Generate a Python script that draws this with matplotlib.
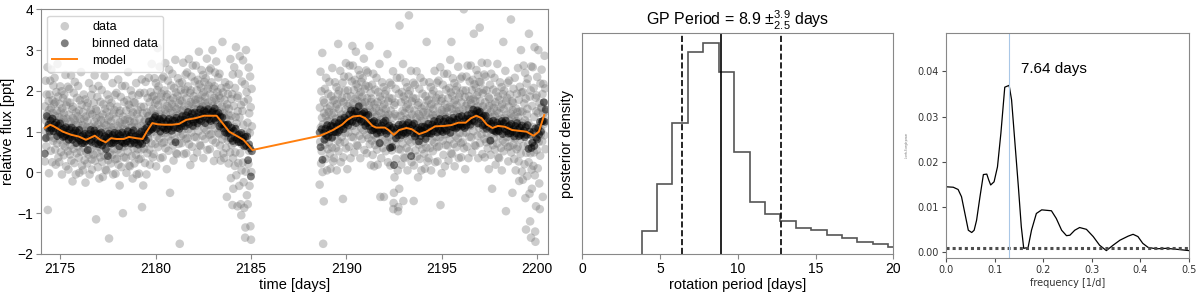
import numpy as np
import matplotlib.pyplot as plt

plt.rcParams['font.family'] = ['Liberation Sans', 'DejaVu Sans']
plt.rcParams['mathtext.fontset'] = 'custom'
plt.rcParams['mathtext.rm'] = 'Liberation Sans'
plt.rcParams['mathtext.it'] = 'Liberation Sans:italic'

# ---- light curve: raw points, 16 per 0.25 d slice, two orbits
gray_seg1 = """
0.27 1.62 1.02 2.25 1.27 0.64 1.91 0.86 1.44 2.58 -0.92 1.33 1.15 1.75 -0.02 1.53
1.91 0.88 2.25 1.22 0.53 1.58 2.52 1.03 1.32 0.25 1.77 1.46 0.77 2.13 1.16 1.68
0.84 2.32 1.39 0.56 1.72 0.19 1.24 1.97 0.98 1.51 0.71 2.66 1.09 1.86 0.37 1.29
1.36 0.25 1.68 0.80 2.11 0.98 1.49 0.50 1.22 1.99 -0.05 1.57 1.08 0.69 1.82 1.31
0.42 1.45 1.91 0.90 1.24 0.63 2.39 1.10 0.15 1.64 1.32 0.77 1.73 1.03 2.10 0.52
0.07 1.42 0.82 2.05 1.07 0.44 1.71 0.66 1.24 2.38 0.29 1.13 0.95 1.55 -0.22 1.33
1.61 0.58 1.95 0.92 0.23 1.28 2.22 0.73 1.02 -0.05 1.47 1.16 0.47 1.83 0.86 1.38
0.64 2.12 1.19 0.36 1.52 -0.01 1.04 1.77 0.78 1.31 0.51 2.46 0.89 1.66 0.17 1.09
1.16 0.05 1.48 0.60 1.91 0.78 1.29 0.30 1.02 1.79 -0.25 1.37 0.88 0.49 1.62 1.11
0.22 1.25 1.71 0.70 1.04 0.43 2.19 0.90 -0.05 1.44 1.12 0.57 1.53 0.83 1.90 0.32
0.07 1.42 0.82 2.05 1.07 0.44 1.71 0.66 1.24 2.38 0.29 1.13 0.95 1.55 -1.15 1.33
1.51 0.48 1.85 0.82 0.13 1.18 2.12 0.63 0.92 -0.15 1.37 1.06 0.37 1.73 0.76 1.28
0.54 2.02 1.09 0.26 1.42 -0.11 0.94 1.67 0.68 1.21 0.41 2.36 0.79 1.56 0.07 0.99
1.16 0.05 1.48 0.60 1.91 0.78 1.29 0.30 1.02 1.79 -1.62 1.37 0.88 0.49 1.62 1.11
0.22 1.25 1.71 0.70 1.04 0.43 2.19 0.90 -0.05 1.44 1.12 0.57 1.53 0.83 1.90 0.32
-0.03 1.32 0.72 1.95 0.97 0.34 1.61 0.56 1.14 2.28 0.19 1.03 0.85 1.45 -0.32 1.23
1.51 0.48 1.85 0.82 0.13 1.18 2.12 0.63 0.92 -1.00 1.37 1.06 0.37 1.73 0.76 1.28
0.64 2.12 1.19 0.36 1.52 -0.01 1.04 1.77 0.78 1.31 0.51 2.46 0.89 1.66 0.17 1.09
1.26 0.15 1.58 0.70 2.01 0.88 1.39 0.40 1.12 1.89 -0.15 1.47 0.98 0.59 1.72 1.21
0.22 1.25 1.71 0.70 1.04 0.43 2.19 0.90 -0.05 1.44 1.12 0.57 1.53 0.83 1.90 0.32
-0.03 1.32 0.72 1.95 0.97 0.34 1.61 0.56 1.14 2.28 -0.85 1.03 0.85 1.45 -0.32 1.23
1.61 0.58 1.95 0.92 0.23 1.28 2.22 0.73 1.02 -0.05 1.47 1.16 0.47 1.83 0.86 1.38
0.84 2.32 1.39 0.56 1.72 0.19 1.24 1.97 0.98 1.51 0.71 2.66 1.09 1.86 0.37 1.29
1.56 0.45 1.88 1.00 2.31 1.18 1.69 0.70 1.42 2.19 0.15 1.77 1.28 0.89 2.02 3.05
0.62 1.65 2.11 1.10 1.44 0.83 2.59 1.30 0.35 1.84 1.52 0.97 1.93 1.23 2.30 0.72
0.37 1.72 1.12 2.35 1.37 0.74 2.01 0.96 1.54 2.68 0.59 1.43 1.25 1.85 0.08 1.63
1.91 0.88 2.25 1.22 0.53 1.58 2.52 1.03 1.32 -0.50 1.77 1.46 0.77 2.13 1.16 1.68
0.94 2.42 1.49 0.66 1.82 0.29 1.34 2.07 1.08 1.61 0.81 2.76 1.19 1.96 0.47 1.39
1.56 0.45 1.88 1.00 2.31 1.18 1.69 0.70 1.42 2.19 -1.75 1.77 1.28 0.89 2.02 1.51
0.72 1.75 2.21 1.20 1.54 0.93 2.69 1.40 0.45 1.94 1.62 1.07 2.03 1.33 2.40 0.82
0.47 1.82 1.22 2.45 1.47 0.84 2.11 1.06 1.64 2.78 0.69 1.53 1.35 1.95 0.18 1.73
2.01 0.98 2.35 1.32 0.63 1.68 2.62 1.13 1.42 0.35 1.87 1.56 0.87 2.23 1.26 1.78
1.14 2.62 1.69 0.86 2.02 0.49 1.54 2.27 1.28 1.81 1.01 2.96 1.39 2.16 0.67 1.59
1.76 0.65 2.08 1.20 2.51 1.38 1.89 0.90 1.62 2.39 0.35 1.97 1.48 1.09 2.22 1.71
0.82 1.85 2.31 1.30 1.64 1.03 2.79 1.50 0.55 2.04 1.72 1.17 2.13 1.43 2.50 0.92
0.57 1.92 1.32 2.55 1.57 0.94 2.21 1.16 1.74 3.00 0.79 1.63 1.45 2.05 0.28 1.83
2.11 1.08 2.45 1.42 0.73 1.78 2.72 1.23 1.52 0.45 1.97 1.66 0.97 2.33 1.36 1.88
0.94 2.42 1.49 0.66 1.82 0.29 1.34 2.07 1.08 1.61 0.81 3.20 1.19 1.96 0.47 1.39
1.46 0.35 1.78 0.90 2.21 1.08 1.59 0.60 1.32 2.09 -0.60 1.67 1.18 0.79 1.92 1.41
0.22 1.56 2.15 0.84 1.28 0.49 2.78 1.10 -0.14 1.80 1.39 0.67 1.92 -0.80 2.40 0.35
-0.40 1.63 0.73 2.58 1.11 0.16 2.07 0.49 1.36 3.07 -0.07 1.20 0.92 1.83 -0.83 1.50
1.88 0.23 2.42 0.77 -0.33 1.35 2.85 0.47 0.93 -0.78 1.65 -1.05 0.05 2.23 0.68 1.51
0.24 2.75 1.17 -0.24 1.73 -0.87 0.92 2.16 -1.60 -1.35 0.02 3.00 0.66 1.97 -0.56 1.00
1.22 -0.78 1.79 0.21 2.57 0.53 1.45 -0.33 0.97 2.35 -1.32 1.60 -1.65 0.01 2.05 1.13
"""
gray_seg2 = """
-0.30 1.59 0.75 2.47 1.10 0.22 1.99 0.52 1.34 2.93 0.01 1.18 -1.75 1.77 -0.71 1.46
1.71 0.68 2.05 1.02 0.33 1.38 2.32 0.83 1.12 0.05 1.57 1.26 0.57 1.93 0.96 1.48
0.74 2.22 1.29 0.46 1.62 0.09 1.14 1.87 0.88 1.41 0.61 2.56 0.99 1.76 0.27 1.19
1.46 0.35 1.78 0.90 2.21 1.08 1.59 0.60 1.32 2.09 0.05 1.67 1.18 0.79 1.92 3.15
0.52 1.55 2.01 1.00 1.34 0.73 2.49 1.20 0.25 1.74 1.42 0.87 1.83 1.13 2.20 -0.65
0.37 1.72 1.12 2.35 1.37 0.74 2.01 0.96 1.54 2.68 0.59 1.43 1.25 1.85 0.08 1.63
2.01 0.98 2.35 1.32 0.63 1.68 2.62 1.13 1.42 0.35 1.87 1.56 0.87 2.23 1.26 3.10
1.14 2.62 1.69 0.86 2.02 0.49 1.54 2.27 1.28 1.81 1.01 2.96 1.39 2.16 0.67 1.59
1.76 0.65 2.08 1.20 2.51 1.38 1.89 0.90 1.62 2.39 0.35 1.97 1.48 1.09 2.22 1.71
0.82 1.85 2.31 1.30 1.64 1.03 2.79 1.50 0.55 2.04 1.72 1.17 2.13 1.43 2.50 0.92
0.47 1.82 1.22 2.45 1.47 0.84 2.11 1.06 1.64 3.10 0.69 1.53 1.35 1.95 0.18 1.73
1.81 0.78 2.15 1.12 0.43 1.48 2.42 0.93 1.22 0.15 1.67 1.36 0.67 2.03 1.06 1.58
0.84 2.32 1.39 0.56 1.72 0.19 1.24 1.97 0.98 1.51 0.71 2.66 1.09 1.86 -0.60 1.29
1.46 0.35 1.78 0.90 2.21 1.08 1.59 0.60 1.32 2.09 -0.60 1.67 1.18 0.79 1.92 1.41
0.52 1.55 2.01 1.00 1.34 0.73 2.90 1.20 0.25 1.74 1.42 0.87 1.83 1.13 2.20 0.62
0.17 1.52 0.92 2.15 1.17 0.54 1.81 0.76 1.34 2.48 -0.90 -0.75 -0.50 1.65 -0.12 1.43
1.71 0.68 2.05 1.02 0.33 1.38 2.32 0.83 1.12 0.05 -0.95 -0.85 0.57 1.93 -0.40 3.60
0.84 2.32 1.39 0.56 1.72 0.19 1.24 1.97 0.98 1.51 0.71 2.66 -0.70 1.86 0.37 1.29
1.46 0.35 1.78 0.90 2.21 1.08 1.59 0.60 1.32 2.09 0.05 1.67 1.18 0.79 1.92 3.85
0.52 1.55 2.01 1.00 1.34 0.73 2.49 1.20 0.25 1.74 1.42 0.87 1.83 1.13 2.20 -0.70
0.17 1.52 0.92 2.15 1.17 0.54 1.81 0.76 1.34 2.48 0.39 1.23 1.05 1.65 -0.12 1.43
1.71 0.68 2.05 1.02 0.33 1.38 2.32 0.83 1.12 0.05 1.57 1.26 0.57 1.93 0.96 1.48
0.74 2.22 1.29 0.46 1.62 0.09 1.14 1.87 0.88 1.41 0.61 3.20 0.99 1.76 0.27 1.19
1.46 0.35 1.78 0.90 2.21 1.08 1.59 0.60 1.32 2.09 0.05 1.67 1.18 0.79 1.92 1.41
0.52 1.55 2.01 1.00 1.34 0.73 2.49 1.20 0.25 1.74 1.42 0.87 1.83 1.13 2.20 0.62
0.27 1.62 1.02 2.25 1.27 0.64 1.91 0.86 1.44 2.58 -0.80 1.33 1.15 1.75 -0.02 1.53
1.81 0.78 2.15 1.12 0.43 1.48 2.42 0.93 1.22 0.15 1.67 1.36 0.67 2.03 1.06 1.58
0.94 2.42 1.49 0.66 1.82 0.29 1.34 2.07 1.08 1.61 0.81 2.76 1.19 1.96 0.47 3.20
1.56 0.45 1.88 1.00 2.31 1.18 1.69 0.70 1.42 2.19 0.15 1.77 1.28 0.89 2.02 1.51
0.62 1.65 2.11 1.10 1.44 0.83 2.59 1.30 0.35 1.84 1.52 0.97 1.93 1.23 2.30 0.72
0.37 1.72 1.12 2.35 1.37 0.74 2.01 0.96 1.54 4.00 0.59 1.43 1.25 1.85 0.08 1.63
2.01 0.98 2.35 1.32 0.63 1.68 2.62 1.13 1.42 0.35 1.87 1.56 0.87 2.23 1.26 1.78
1.14 2.62 1.69 0.86 2.02 0.49 1.54 2.27 1.28 1.81 1.01 3.40 1.39 2.16 0.67 1.59
1.76 0.65 2.08 1.20 2.51 1.38 1.89 0.90 1.62 2.39 0.35 1.97 1.48 1.09 2.22 3.55
0.72 1.75 2.21 1.20 1.54 0.93 2.69 1.40 0.45 1.94 1.62 1.07 2.03 1.33 2.40 0.82
0.37 1.72 1.12 2.35 1.37 0.74 2.01 0.96 1.54 2.68 0.59 1.43 1.25 1.85 0.08 1.63
1.81 0.78 2.15 1.12 0.43 1.48 2.42 0.93 1.22 -0.40 1.67 1.36 0.67 2.03 1.06 1.58
0.84 2.32 1.39 0.56 1.72 0.19 1.24 1.97 0.98 1.51 0.71 2.66 1.09 1.86 0.37 1.29
1.46 0.35 1.78 0.90 2.21 1.08 1.59 0.60 1.32 2.09 0.05 1.67 1.18 0.79 1.92 3.20
0.52 1.55 2.01 1.00 1.34 0.73 2.49 1.20 -0.95 1.74 1.42 0.87 1.83 1.13 2.20 0.62
0.27 1.62 1.02 2.25 1.27 0.64 1.91 0.86 1.44 3.75 0.49 1.33 1.15 1.75 -0.50 1.53
1.71 0.68 2.05 1.02 0.33 1.38 2.32 0.83 1.12 0.05 1.57 1.26 0.57 1.93 0.96 1.48
0.63 2.56 1.35 0.27 1.78 -0.21 1.15 2.10 0.81 1.50 0.46 3.00 0.96 1.96 0.02 1.22
1.49 -0.18 1.97 0.65 2.62 0.92 1.69 0.20 1.28 2.44 -0.63 1.81 -1.40 0.48 2.18 1.42
-0.09 1.56 2.30 0.68 1.22 0.25 3.40 1.00 -0.52 1.86 -1.20 0.47 2.01 -1.60 2.60 0.07
-0.40 1.63 0.73 2.58 1.11 0.16 2.07 0.49 1.36 3.07 -0.07 -1.45 -1.70 1.83 -0.83 1.50
1.89 0.55 2.34 1.00 0.10 1.46 3.00 0.75 1.13 -0.27 1.71 -0.90 0.41 2.18 0.92 1.59
1.04 2.52 1.59 0.76 1.92 -0.60 1.44 2.17 1.18 1.71 0.91 2.86 1.29 2.06 0.57 1.49
"""

# binned points, one every 0.05 d
binned_seg1 = [
    0.46, 0.84, 1.38, 1.09, 1.17, 1.00, 1.27, 1.08, 1.32, 1.01, 1.17, 1.08, 1.22, 0.89, 1.15, 0.99,
    1.20, 0.94, 1.04, 0.87, 1.07, 0.88, 1.11, 0.92, 0.97, 0.80, 1.05, 0.86, 1.10, 0.80, 0.96, 0.89, 1.03, 0.72, 0.98, 0.83,
    1.04, 0.78, 0.88, 0.71, 0.91, 0.72, 0.95, 0.77, 0.83, 0.55, 0.94, 0.78, 1.04, 0.75, 0.93, 0.87, 1.03, 0.71, 0.96, 0.80,
    0.69, 0.94, 0.74, 0.98, 0.66, 0.82, 0.74, 0.89, 0.57, 0.85, 0.40, 0.95, 0.72, 0.86, 0.71, 0.92, 0.73, 0.97, 0.78, 0.84,
    0.80, 0.95, 0.64, 0.91, 0.76, 0.98, 0.73, 0.86, 0.71, 0.93, 0.76, 1.01, 0.83, 0.89, 0.71, 0.97, 0.78, 1.03, 0.72, 0.89,
    0.80, 0.86, 0.68, 0.94, 0.75, 1.00, 0.70, 0.90, 0.86, 1.06, 0.79, 1.10, 0.99, 1.25, 1.03, 1.19, 1.06, 1.28, 1.10, 1.34,
    1.38, 1.07, 1.23, 1.16, 1.31, 1.00, 1.26, 1.11, 1.33, 1.08, 1.20, 1.04, 1.25, 1.07, 1.31, 1.13, 1.19, 1.02, 1.28, 1.10,
    1.27, 0.74, 1.34, 1.09, 1.22, 1.07, 1.30, 1.13, 1.38, 1.21, 1.29, 1.13, 1.40, 1.23, 1.48, 1.18, 1.36, 1.29, 1.45, 1.14,
    1.23, 1.47, 1.30, 1.36, 1.20, 1.46, 1.29, 1.55, 1.26, 1.43, 1.37, 1.52, 1.21, 1.48, 1.33, 1.55, 1.30, 1.42, 1.26, 1.47,
    1.50, 1.32, 1.57, 1.27, 1.44, 1.34, 1.46, 1.13, 1.37, 1.18, 1.35, 1.08, 1.17, 0.98, 1.16, 0.96, 1.17, 0.97, 1.01, 0.83,
    1.09, 0.77, 1.02, 0.86, 1.07, 0.81, 0.91, 0.74, 0.93, 0.74, 0.97, 0.78, 0.83, 0.64, 0.87, 0.66, 0.88, 0.30, 0.69, 0.59,
    -0.10, 0.52]
binned_seg2 = [
    0.98, 0.62, 1.06, 0.31, 0.96, 0.80, 1.07, 0.90,
    1.16, 0.87, 1.05, 0.99, 1.15, 0.85, 1.13, 0.99, 1.23, 0.99, 1.13, 0.98, 1.21, 1.04, 1.30, 1.13, 1.21, 1.06, 1.34, 1.18,
    1.23, 1.30, 1.15, 1.42, 1.26, 1.52, 1.24, 1.42, 1.36, 1.51, 1.21, 1.48, 1.33, 1.62, 1.30, 1.41, 1.24, 1.44, 1.25, 1.48,
    1.14, 1.39, 1.21, 1.41, 1.13, 1.22, 1.03, 1.23, 1.03, 1.26, 1.07, 1.13, 0.95, 1.21, 1.03, 0.72, 0.98, 1.15, 1.08, 1.23,
    1.03, 1.27, 0.95, 1.11, 1.02, 1.15, 0.60, 1.06, 0.62, 1.10, 0.18, 0.98, 0.84, 1.07, 0.91, 1.17, 1.00, 1.07, 0.91, 1.18,
    0.98, 1.11, 0.95, 1.16, 0.98, 1.22, 1.03, 1.09, 0.40, 1.16, 0.96, 1.20, 0.88, 1.04, 0.95, 1.09, 0.76, 1.04, 0.89, 1.12,
    1.02, 0.96, 1.12, 0.82, 1.09, 0.96, 1.19, 0.96, 1.09, 0.95, 1.17, 1.01, 1.26, 1.09, 1.15, 0.98, 1.24, 1.06, 1.31, 1.02,
    1.16, 0.99, 1.25, 1.07, 1.32, 1.02, 1.20, 1.13, 1.28, 0.97, 1.25, 1.11, 1.34, 1.10, 1.23, 1.08, 1.30, 1.12, 1.36, 1.18,
    1.16, 1.38, 1.13, 1.25, 1.09, 1.31, 1.15, 1.40, 1.24, 1.32, 1.17, 1.44, 1.28, 1.54, 1.25, 1.43, 1.37, 1.52, 1.20, 1.46,
    1.49, 1.30, 1.34, 1.15, 1.38, 1.17, 1.39, 1.07, 1.21, 1.12, 1.25, 0.78, 1.19, 1.04, 1.27, 1.02, 1.15, 1.00, 1.22, 1.04,
    1.01, 1.18, 1.11, 1.26, 0.94, 1.21, 1.06, 1.27, 1.01, 1.12, 0.95, 1.15, 0.96, 1.19, 1.00, 1.06, 0.88, 1.14, 0.96, 1.21,
    1.05, 0.89, 1.10, 0.92, 1.15, 0.97, 1.03, 0.86, 1.11, 0.92, 1.16, 0.58, 1.00, 0.92, 0.60, 0.73, 0.99, 0.65, 1.08, 0.85,
    0.81, 1.09, 0.93, 1.24, 1.00, 1.25, 1.26, 1.72, 1.24, 1.54]

model_t = [2174.20, 2174.48, 2174.67, 2175.14, 2175.60, 2175.98, 2176.35, 2176.54,
           2176.82, 2177.11, 2177.39, 2177.67, 2177.95, 2178.33, 2178.61, 2178.98,
           2179.32, 2179.54, 2179.83, 2180.11, 2180.48, 2180.86, 2181.23, 2181.61,
           2182.08, 2182.55, 2182.92, 2183.20, 2183.49, 2183.86, 2184.24, 2184.61,
           2185.08,
           2188.61, 2188.93, 2189.30, 2189.77, 2190.05, 2190.34, 2190.71, 2190.99,
           2191.37, 2191.56, 2192.02, 2192.21, 2192.49, 2192.77, 2193.15, 2193.43,
           2193.81, 2194.18, 2194.65, 2195.12, 2195.50, 2195.87, 2196.25, 2196.53,
           2196.81, 2197.09, 2197.37, 2197.66, 2197.94, 2198.31, 2198.69, 2199.06,
           2199.44, 2199.81, 2200.09, 2200.37]
model_f = [1.09, 1.17, 1.13, 1.00, 0.92, 0.88, 0.80, 0.84, 0.90, 0.80, 0.74, 0.84,
           0.82, 0.82, 0.87, 0.84, 0.82, 1.00, 1.21, 1.18, 1.17, 1.17, 1.19, 1.29,
           1.33, 1.39, 1.39, 1.39, 1.22, 1.00, 0.90, 0.80, 0.55,
           0.90, 0.96, 1.04, 1.17, 1.29, 1.37, 1.39, 1.33, 1.14, 1.10, 1.10, 1.04,
           0.92, 1.04, 1.09, 1.06, 0.94, 1.00, 1.13, 1.14, 1.16, 1.22, 1.22, 1.33,
           1.39, 1.33, 1.17, 1.09, 1.14, 1.12, 1.04, 1.02, 1.00, 0.90, 1.00, 1.41]

# ---- GP period posterior
hist_edges = [3.81, 4.80, 5.79, 6.79, 7.78, 8.77, 9.76, 10.75, 11.74, 12.74,
              13.73, 14.72, 15.71, 16.70, 17.69, 18.69, 19.68, 20.67]
hist_heights = [0.070, 0.209, 0.392, 0.605, 0.632, 0.547, 0.307, 0.157, 0.120,
                0.099, 0.077, 0.072, 0.057, 0.047, 0.037, 0.029, 0.022]
period_med, period_lo, period_hi = 8.9, 6.4, 12.8

# ---- periodogram
freq = [0.000, 0.015, 0.025, 0.032, 0.039, 0.046, 0.053, 0.058, 0.063, 0.070,
        0.077, 0.084, 0.088, 0.092, 0.099, 0.106, 0.113, 0.121, 0.130, 0.135,
        0.142, 0.149, 0.155, 0.160, 0.169, 0.176, 0.186, 0.197, 0.217, 0.227,
        0.238, 0.248, 0.255, 0.265, 0.275, 0.289, 0.303, 0.316, 0.330, 0.344,
        0.358, 0.375, 0.385, 0.395, 0.405, 0.416, 0.433, 0.453, 0.474, 0.500]
power = [0.0145, 0.0144, 0.0139, 0.0123, 0.0086, 0.0049, 0.0044, 0.0049, 0.0071,
         0.0123, 0.0172, 0.0173, 0.0160, 0.0149, 0.0156, 0.0189, 0.0263, 0.0365,
         0.0369, 0.0337, 0.0241, 0.0145, 0.0057, 0.0009, 0.0011, 0.0049, 0.0086,
         0.0094, 0.0092, 0.0075, 0.0049, 0.0037, 0.0038, 0.0049, 0.0055, 0.0051,
         0.0035, 0.0016, 0.0004, 0.0016, 0.0027, 0.0036, 0.0040, 0.0035, 0.0020,
         0.0011, 0.0008, 0.0009, 0.0007, 0.0004]
fap_level = 0.001
peak_freq = 0.1288
peak_label = "7.64 days"

g1 = np.array(gray_seg1.split(), float)
g2 = np.array(gray_seg2.split(), float)
t_g1 = np.linspace(2174.2, 2185.05, len(g1))
t_g2 = np.linspace(2188.6, 2200.45, len(g2))
t_b1 = 2174.2 + 0.05 * np.arange(len(binned_seg1))
t_b2 = 2188.6 + 0.05 * np.arange(len(binned_seg2))

spine_c = '#888888'
fig = plt.figure(figsize=(12, 2.95), dpi=100)

# light curve
ax1 = fig.add_axes([0.0342, 0.139, 0.4225, 0.8295])
ax1.scatter(np.r_[t_g1, t_g2], np.r_[g1, g2], s=38, color='0.45', alpha=0.36,
            edgecolors='none', label='data')
ax1.scatter(np.r_[t_b1, t_b2], binned_seg1 + binned_seg2, s=32, color='k',
            alpha=0.5, edgecolors='none', label='binned data')
ax1.plot(model_t, model_f, color='#ff7f0e', lw=1.4, label='model')
ax1.set_xlim(2174.0, 2200.57)
ax1.set_ylim(-2, 4)
ax1.set_xticks([2175, 2180, 2185, 2190, 2195, 2200])
ax1.set_yticks([-2, -1, 0, 1, 2, 3, 4])
ax1.set_xlabel('time [days]', fontsize=10.5, labelpad=2)
ax1.set_ylabel('relative flux [ppt]', fontsize=10.5, labelpad=2)
ax1.tick_params(labelsize=10, color=spine_c, length=3.5, pad=2)
ax1.legend(loc='upper left', fontsize=9, frameon=True, edgecolor='#cccccc',
           borderpad=0.4, handletextpad=1.2, labelspacing=0.4)

# posterior histogram
ax2 = fig.add_axes([0.4853, 0.139, 0.2592, 0.748])
ax2.stairs(hist_heights, hist_edges, color='#555555', lw=1.2)
ax2.axvline(period_med, color='k', lw=1.2)
ax2.axvline(period_lo, color='k', lw=1.2, ls='--')
ax2.axvline(period_hi, color='k', lw=1.2, ls='--')
ax2.set_xlim(0, 20)
ax2.set_ylim(0, 0.662)
ax2.set_yticks([])
ax2.set_xticks([0, 5, 10, 15, 20])
ax2.tick_params(labelsize=10, color=spine_c, length=3.5, pad=2)
ax2.set_xlabel('rotation period [days]', fontsize=10.5, labelpad=2)
ax2.set_ylabel('posterior density', fontsize=10.5, labelpad=6)
ax2.set_title(r'GP Period = 8.9 $\pm^{3.9}_{2.5}$ days', fontsize=11.5, pad=6)

# periodogram
ax3 = fig.add_axes([0.7883, 0.1244, 0.2025, 0.7627])
ax3.plot(freq, power, color='k', lw=0.9)
ax3.axhline(fap_level, color='0.3', lw=2.2, ls=(0, (1, 1)))
ax3.axvline(peak_freq, color='#a9c7e6', lw=0.8)
ax3.text(0.155, 0.0405, peak_label, fontsize=11, va='center')
ax3.set_xlim(0, 0.5)
ax3.set_ylim(-0.0013, 0.0484)
ax3.set_xticks([0.0, 0.1, 0.2, 0.3, 0.4, 0.5])
ax3.set_yticks([0.0, 0.01, 0.02, 0.03, 0.04])
ax3.set_xticklabels(['0.0', '0.1', '0.2', '0.3', '0.4', '0.5'], family='DejaVu Sans')
ax3.set_yticklabels(['0.00', '0.01', '0.02', '0.03', '0.04'], family='DejaVu Sans')
ax3.tick_params(labelsize=7, color='0.3', length=3, pad=2, labelcolor='0.2')
ax3.set_xlabel('frequency [1/d]', fontsize=7, family='DejaVu Sans', color='0.2', labelpad=2)
ax3.set_ylabel('Lomb-Scargle power', fontsize=2, color='0.45', labelpad=6)

for ax in (ax1, ax2, ax3):
    for sp in ax.spines.values():
        sp.set_color(spine_c)

plt.savefig('out.png', dpi=100)
